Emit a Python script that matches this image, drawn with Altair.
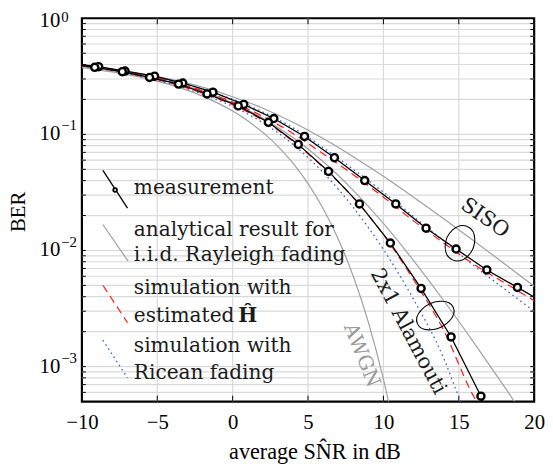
import math
import altair as alt
import pandas as pd

# ---------------- data ----------------
# measured BER, SISO (black line with circles)
siso_meas_snr = [-10.9, -8.89, -7.14, -5.18, -3.31, -1.31, 0.74, 2.73, 4.77, 6.75,
                 8.76, 10.82, 12.83, 14.82, 16.86, 18.89, 20.9]
siso_meas_ber = [0.41, 0.383, 0.351, 0.317, 0.277, 0.231, 0.181, 0.137, 0.096, 0.063,
                 0.040, 0.0252, 0.01556, 0.0103, 0.0068, 0.00481, 0.0034]
# measured BER, 2x1 Alamouti
ala_meas_snr = [-11.1, -9.15, -7.32, -5.51, -3.59, -1.70, 0.37, 2.37, 4.35, 6.36,
                8.41, 10.46, 12.50, 14.49, 16.47, 18.4]
ala_meas_ber = [0.405, 0.378, 0.347, 0.309, 0.271, 0.223, 0.176, 0.127, 0.082, 0.048,
                0.0252, 0.0116, 0.00471, 0.0018, 0.000556, 0.00012]

snr_grid = [-10, -8, -6, -4, -2, 0, 2, 4, 6, 8, 10, 12, 14, 16, 18, 20]
# analytical, i.i.d. Rayleigh (gray)
siso_anal_ber = [0.391, 0.365, 0.333, 0.296, 0.255, 0.211, 0.168, 0.127, 0.0921, 0.0643,
                 0.0436, 0.0288, 0.0188, 0.0121, 0.00774, 0.00493]
ala_anal_ber = [0.384, 0.356, 0.321, 0.281, 0.236, 0.187, 0.138, 0.0941, 0.0584, 0.0330,
                0.0171, 0.00819, 0.00371, 0.00161, 0.00068, 0.00028]
# AWGN (gray)
awgn_snr = [-10, -8, -6, -4, -2, 0, 1, 2, 3, 4, 5, 6, 7, 8, 9, 10, 10.5, 11]
awgn_ber = [0.376, 0.345, 0.308, 0.264, 0.2135, 0.1587, 0.1309, 0.104, 0.0789, 0.0565,
            0.0377, 0.0230, 0.01258, 0.0060, 0.00242, 0.00078, 0.000404, 0.0002]
# simulation with estimated H (red dashed)
siso_est_ber = [0.395, 0.362, 0.326, 0.284, 0.238, 0.19, 0.143, 0.102, 0.068, 0.045,
                0.0288, 0.018, 0.0116, 0.0076, 0.0053, 0.0037]
ala_est_snr = [-10, -8, -6, -4, -2, 0, 2, 4, 6, 8, 10, 12, 14, 16, 18]
ala_est_ber = [0.39, 0.356, 0.316, 0.274, 0.226, 0.18, 0.132, 0.087, 0.052, 0.0285,
               0.0137, 0.0056, 0.00205, 0.00055, 0.00025]
# simulation with Ricean fading (blue dotted)
siso_ric_ber = [0.39, 0.36, 0.327, 0.288, 0.246, 0.201, 0.156, 0.114, 0.077, 0.050,
                0.0318, 0.0196, 0.0121, 0.0074, 0.0047, 0.0030]
ala_ric_snr = [-10, -8, -6, -4, -2, 0, 2, 4, 6, 8, 10, 12, 14, 15, 16]
ala_ric_ber = [0.388, 0.353, 0.313, 0.27, 0.222, 0.174, 0.126, 0.082, 0.047, 0.0235,
               0.0102, 0.0038, 0.00118, 0.00055, 0.00028]

x_ticks = [-10, -5, 0, 5, 10, 15, 20]
y_decades = [1.0, 0.1, 0.01, 0.001]
y_exponents = ["0", "\u22121", "\u22122", "\u22123"]
mantissas = [1, 2, 3, 4, 5, 6, 7, 8, 9]
y_minor = [m * d for d in [0.0001, 0.001, 0.01, 0.1] for m in mantissas if 5e-4 < m * d < 1]

# ---------------- layout ----------------
W, H = 459, 389
SERIF = "DejaVu Serif"
NUM = "Liberation Serif"

xs = alt.Scale(domain=[-10, 20], nice=False, zero=False)
ys = alt.Scale(type="log", domain=[5e-4, 1], nice=False)

xaxis = alt.Axis(values=x_ticks, grid=False, ticks=False, tickSize=0, domain=False,
                 labelFont=NUM, labelFontSize=21, labelColor="black", labelPadding=27,
                 labelBaseline="alphabetic", labelFlush=False, labelOverlap=False,
                 labelExpr="datum.value < 0 ? datum.label + '\u2002' : datum.label",
                 title="average SN\u0302R in dB", titleFont=NUM, titleFontSize=22.5,
                 titleFontWeight="normal", titleColor="black", titleBaseline="alphabetic",
                 titleY=58, titleX=236)
yaxis = alt.Axis(values=y_decades, grid=False, ticks=False, tickSize=0, domain=False,
                 labels=False, title="BER", titleFont=NUM, titleFontSize=21,
                 titleFontWeight="normal", titleColor="black", titleBaseline="alphabetic",
                 titleX=-58, titleY=196, titleAngle=270)


def X():
    return alt.X("x:Q", scale=xs, axis=xaxis)


def Y():
    return alt.Y("y:Q", scale=ys, axis=yaxis)


def df(x, y):
    return pd.DataFrame({"x": x, "y": y})


one = pd.DataFrame({"a": [0]})
layers = []

# grid
layers.append(alt.Chart(pd.DataFrame({"y": y_minor})).mark_rule(color="#d9d9d9", strokeWidth=1.2)
              .encode(y=Y()))
layers.append(alt.Chart(pd.DataFrame({"x": x_ticks[1:-1]})).mark_rule(color="#d9d9d9", strokeWidth=1.2)
              .encode(x=X()))
# inward ticks
ydf = pd.DataFrame({"y": y_minor})
for a, b in [(0, 4), (W - 4, W)]:
    layers.append(alt.Chart(ydf).mark_rule(color="black", strokeWidth=1)
                  .encode(y=Y(), x=alt.value(a), x2=alt.value(b)))
xdf = pd.DataFrame({"x": x_ticks[1:-1]})
for a, b in [(0, 6), (H - 6, H)]:
    layers.append(alt.Chart(xdf).mark_rule(color="black", strokeWidth=1)
                  .encode(x=X(), y=alt.value(a), y2=alt.value(b)))


def curve(x, y, **kw):
    return alt.Chart(df(x, y)).mark_line(clip=True, interpolate="monotone", **kw).encode(x=X(), y=Y())


GRAY = "#a0a0a0"
RED = "#ff1a1a"
BLUE = "#3a5fcd"
layers += [
    curve(snr_grid, siso_anal_ber, color=GRAY, strokeWidth=1.2),
    curve(snr_grid, ala_anal_ber, color=GRAY, strokeWidth=1.2),
    curve(awgn_snr, awgn_ber, color=GRAY, strokeWidth=1.2),
    curve(snr_grid, siso_ric_ber, color=BLUE, strokeWidth=1.3, strokeDash=[1.6, 3.4]),
    curve(ala_ric_snr, ala_ric_ber, color=BLUE, strokeWidth=1.3, strokeDash=[1.6, 3.4]),
    curve(snr_grid, siso_est_ber, color=RED, strokeWidth=1.2, strokeDash=[8, 5]),
    curve(ala_est_snr, ala_est_ber, color=RED, strokeWidth=1.2, strokeDash=[8, 5]),
]
for sx, sy in [(siso_meas_snr, siso_meas_ber), (ala_meas_snr, ala_meas_ber)]:
    layers.append(alt.Chart(df(sx, sy)).mark_line(clip=True, color="black", strokeWidth=1.3)
                  .encode(x=X(), y=Y()))
    layers.append(alt.Chart(df(sx, sy)).mark_point(clip=True, shape="circle", size=52, fill="white",
                                                   fillOpacity=1, stroke="black", strokeWidth=2.4,
                                                   opacity=1)
                  .encode(x=X(), y=Y()))

# y tick labels 10^k
lab = pd.DataFrame({"y": y_decades, "b": ["10"] * 4, "e": y_exponents})
for rows, d, de in [(lab.iloc[:1], 3, 4), (lab.iloc[1:], 0, -4)]:
    layers.append(alt.Chart(rows).mark_text(align="right", baseline="middle", font=NUM, fontSize=21,
                                            color="black", dy=d)
                  .encode(x=alt.value(-22), y=Y(), text="b:N"))
    layers.append(alt.Chart(rows).mark_text(align="left", baseline="alphabetic", font=NUM, fontSize=15,
                                            color="black", dy=de)
                  .encode(x=alt.value(-21), y=Y(), text="e:N"))


def seg(x1, y1, x2, y2, **kw):
    return alt.Chart(one).mark_rule(**kw).encode(x=alt.value(x1), y=alt.value(y1),
                                                 x2=alt.value(x2), y2=alt.value(y2))


def txt(x, y, s, **kw):
    base = dict(font=SERIF, fontSize=20.4, align="left", baseline="alphabetic", color="#1a1a1a")
    base.update(kw)
    return alt.Chart(one).mark_text(**base).encode(x=alt.value(x), y=alt.value(y), text=alt.value(s))


# legend
layers += [
    seg(21.3, 154.3, 46.3, 192.7, color="black", strokeWidth=1.3),
    alt.Chart(one).mark_point(shape="circle", size=14, fill="white", fillOpacity=1, stroke="black",
                              strokeWidth=1.8, opacity=1)
    .encode(x=alt.value(33.7), y=alt.value(174.3)),
    seg(21.3, 209.3, 47, 246.7, color=GRAY, strokeWidth=1.2),
    seg(21.3, 271, 46.3, 309, color=RED, strokeWidth=1.2, strokeDash=[8, 5]),
    seg(21.3, 326.7, 46.3, 365, color=BLUE, strokeWidth=1.3, strokeDash=[1.6, 3.4]),
    txt(52.7, 178.3, "measurement"),
    txt(52.7, 221, "analytical result for"),
    txt(52.7, 246.7, "i.i.d. Rayleigh fading"),
    txt(52.7, 280, "simulation with"),
    txt(52.7, 308.3, "estimated"),
    txt(158.7, 308.3, "\u0124", fontWeight="bold"),
    txt(52.7, 338.3, "simulation with"),
    txt(52.7, 365.7, "Ricean fading"),
]


# annotations: tilted ellipses drawn as custom symbol paths (rotation inside the arc command)
def ellipse(cx, cy, semi, ratio, ang):
    s = math.sin(math.radians(ang))
    c = math.cos(math.radians(ang))
    path = (f"M{s:.4f},{-c:.4f}A{ratio},1 {ang} 1,1 {-s:.4f},{c:.4f}"
            f"A{ratio},1 {ang} 1,1 {s:.4f},{-c:.4f}Z")
    return alt.Chart(one).mark_point(shape=path, size=(2 * semi) ** 2, filled=False, stroke="black",
                                     strokeWidth=1.1, opacity=1) \
        .encode(x=alt.value(cx), y=alt.value(cy))


layers += [
    ellipse(383.7, 228.3, 18.5, 0.76, 24),
    ellipse(358.7, 301.7, 20, 0.65, 65),
    txt(409, 203, "SISO", align="center", baseline="middle", angle=35, fontSize=21),
    txt(331, 318, "2x1 Alamouti", align="center", baseline="middle", angle=62, fontSize=21),
    txt(284, 342, "AWGN", align="center", baseline="middle", angle=68, fontSize=20, color="#999999"),
]

chart = alt.layer(*layers).properties(
    width=W, height=H,
    autosize=alt.AutoSizeParams(type="none"),
    padding={"left": 75, "top": 7, "right": 11, "bottom": 64},
    background="white",
).configure_view(stroke="black", strokeWidth=2.2)

chart.save("out.html", embed_options={"renderer": "svg", "actions": False})
